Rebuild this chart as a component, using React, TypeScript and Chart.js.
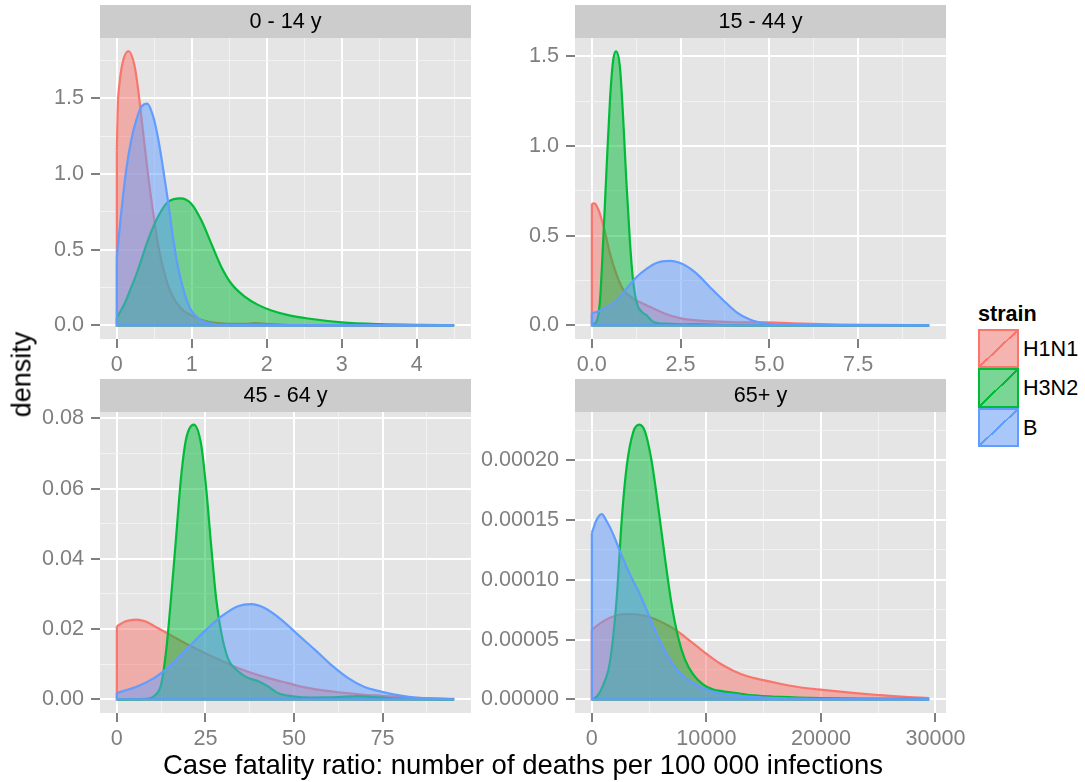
import React, { useEffect, useRef } from "react";
import { Chart, registerables } from "chart.js";

Chart.register(...registerables);

const FONT = "'Liberation Sans', Arial, Helvetica, sans-serif";

// ---------------- categories ----------------
const strains = ["H1N1", "H3N2", "B"];
const strainColors = ["#F8766D", "#00BA38", "#619CFF"];
const strainFills = ["rgba(248,118,109,0.5)", "rgba(0,186,56,0.5)", "rgba(97,156,255,0.5)"];
const panelTitles = ["0 - 14 y", "15 - 44 y", "45 - 64 y", "65+ y"];
const xAxisTitle = "Case fatality ratio: number of deaths per 100 000 infections";
const yAxisTitle = "density";
const legendTitle = "strain";

// ---------------- panel 1: 0 - 14 y ----------------
const p1_H1N1_x = [0, 0.012, 0.035, 0.079, 0.155, 0.235, 0.28, 0.347, 0.414, 0.48, 0.547, 0.636, 0.726, 0.86, 0.993, 1.17, 1.44, 1.7, 1.85, 2.0, 2.3, 3.0, 4.5];
const p1_H1N1_y = [1.157, 1.443, 1.597, 1.74, 1.813, 1.718, 1.575, 1.289, 1.003, 0.76, 0.54, 0.342, 0.209, 0.11, 0.066, 0.029, 0.011, 0.009, 0.014, 0.009, 0.002, 0.0, 0];
const p1_H3N2_x = [0, 0.102, 0.191, 0.28, 0.414, 0.547, 0.681, 0.85, 0.993, 1.127, 1.26, 1.394, 1.528, 1.706, 1.884, 2.063, 2.3, 2.55, 3.0, 3.5, 4.0, 4.5];
const p1_H3N2_y = [0.05, 0.143, 0.25, 0.364, 0.562, 0.716, 0.815, 0.839, 0.804, 0.694, 0.54, 0.386, 0.275, 0.19, 0.135, 0.098, 0.066, 0.045, 0.02, 0.008, 0.003, 0.001];
const p1_B_x = [0, 0.057, 0.124, 0.191, 0.258, 0.325, 0.405, 0.48, 0.547, 0.614, 0.681, 0.748, 0.815, 0.904, 0.993, 1.127, 1.305, 1.5, 4.5];
const p1_B_y = [0.452, 0.738, 1.024, 1.223, 1.355, 1.443, 1.465, 1.388, 1.245, 1.046, 0.826, 0.584, 0.385, 0.209, 0.099, 0.033, 0.007, 0.001, 0];
const p1_xMajor = [0, 1, 2, 3, 4];
const p1_xMinor = [0.5, 1.5, 2.5, 3.5, 4.5];
const p1_xLabels = ["0", "1", "2", "3", "4"];
const p1_yMajor = [0, 0.5, 1, 1.5];
const p1_yMinor = [0.25, 0.75, 1.25, 1.75];
const p1_yLabels = ["0.0", "0.5", "1.0", "1.5"];
const p1_xRange = [-0.225, 4.725];
const p1_yRange = [-0.0904, 1.899];

// ---------------- panel 2: 15 - 44 y ----------------
const p2_H1N1_x = [0, 0.07, 0.15, 0.23, 0.37, 0.51, 0.7, 0.88, 1.17, 1.54, 2.01, 2.48, 2.95, 3.88, 4.9, 5.9, 7.0, 8.0, 9.5];
const p2_H1N1_y = [0.679, 0.68, 0.66, 0.62, 0.52, 0.4, 0.28, 0.2, 0.149, 0.112, 0.069, 0.04, 0.027, 0.018, 0.016, 0.01, 0.004, 0.002, 0];
const p2_H3N2_x = [0, 0.15, 0.23, 0.32, 0.416, 0.51, 0.6, 0.68, 0.79, 0.88, 0.97, 1.07, 1.16, 1.27, 1.41, 1.54, 1.73, 2.1, 2.6, 3.0, 3.4, 4.0, 9.5];
const p2_H3N2_y = [0, 0.03, 0.14, 0.474, 0.883, 1.256, 1.479, 1.529, 1.442, 1.162, 0.809, 0.474, 0.251, 0.121, 0.074, 0.056, 0.019, 0.009, 0.006, 0.007, 0.004, 0.001, 0];
const p2_B_x = [0, 0.416, 0.7, 0.98, 1.26, 1.54, 1.82, 2.2, 2.57, 2.95, 3.32, 3.7, 4.07, 4.45, 4.92, 5.3, 6.0, 9.5];
const p2_B_y = [0.065, 0.1, 0.14, 0.205, 0.27, 0.315, 0.348, 0.359, 0.34, 0.288, 0.214, 0.14, 0.074, 0.032, 0.009, 0.004, 0.001, 0];
const p2_xMajor = [0, 2.5, 5, 7.5];
const p2_xMinor = [1.25, 3.75, 6.25, 8.75];
const p2_xLabels = ["0.0", "2.5", "5.0", "7.5"];
const p2_yMajor = [0, 0.5, 1, 1.5];
const p2_yMinor = [0.25, 0.75, 1.25];
const p2_yLabels = ["0.0", "0.5", "1.0", "1.5"];
const p2_xRange = [-0.475, 9.975];
const p2_yRange = [-0.0764, 1.603];

// ---------------- panel 3: 45 - 64 y ----------------
const p3_H1N1_x = [0, 2.5, 5.44, 8, 10.6, 15.3, 20.0, 24.8, 29.5, 34.2, 38.9, 43.6, 48.3, 53.0, 57.7, 62.4, 70, 75, 85, 95.2];
const p3_H1N1_y = [0.0208, 0.0222, 0.0227, 0.0222, 0.0208, 0.0182, 0.0156, 0.0132, 0.011, 0.0089, 0.0072, 0.0058, 0.0046, 0.0034, 0.0026, 0.002, 0.0013, 0.001, 0.0004, 0.0001];
const p3_H3N2_x = [0, 8, 10.6, 12.5, 13.9, 15.3, 16.7, 18.1, 19.5, 21.7, 23.8, 25.2, 26.6, 28.0, 29.4, 31.3, 34.2, 37.0, 39.8, 42.6, 45.4, 50.1, 54.8, 62.4, 68, 72, 80, 95.2];
const p3_H3N2_y = [0, 0.0001, 0.001, 0.0042, 0.0137, 0.0289, 0.0459, 0.063, 0.0739, 0.0782, 0.0725, 0.0602, 0.044, 0.0289, 0.0194, 0.0118, 0.008, 0.0061, 0.0052, 0.0037, 0.0018, 0.0008, 0.0005, 0.0006, 0.0009, 0.0007, 0.0002, 0];
const p3_B_x = [0, 5.9, 10.6, 15.3, 20.0, 24.8, 29.5, 34.2, 37.9, 41.7, 46.4, 51.1, 55.8, 60.5, 65.2, 69.9, 73.8, 79.7, 85, 95.2];
const p3_B_y = [0.0018, 0.0037, 0.0061, 0.0098, 0.0146, 0.0194, 0.0236, 0.0265, 0.0271, 0.026, 0.0227, 0.0184, 0.0142, 0.0098, 0.0061, 0.0035, 0.0024, 0.0011, 0.0004, 0];
const p3_xMajor = [0, 25, 50, 75];
const p3_xMinor = [12.5, 37.5, 62.5, 87.5];
const p3_xLabels = ["0", "25", "50", "75"];
const p3_yMajor = [0, 0.02, 0.04, 0.06, 0.08];
const p3_yMinor = [0.01, 0.03, 0.05, 0.07];
const p3_yLabels = ["0.00", "0.02", "0.04", "0.06", "0.08"];
const p3_xRange = [-4.76, 99.96];
const p3_yRange = [-0.0039, 0.0818];

// ---------------- panel 4: 65+ y ----------------
const p4_H1N1_x = [0, 1006, 2170, 3333, 4788, 6242, 7406, 8278, 9151, 10023, 11186, 12349, 13512, 14966, 16421, 17875, 19329, 20784, 23000, 25000, 27000, 29450];
const p4_H1N1_y = [5.83e-5, 6.53e-5, 7.03e-5, 7.14e-5, 6.95e-5, 6.39e-5, 5.75e-5, 5.1e-5, 4.45e-5, 3.8e-5, 3.0e-5, 2.4e-5, 1.95e-5, 1.6e-5, 1.3e-5, 1.05e-5, 0.87e-5, 0.72e-5, 0.52e-5, 0.36e-5, 0.22e-5, 0.11e-5];
const p4_H3N2_x = [0, 500, 1006, 1588, 2170, 2606, 3043, 3624, 4148, 4642, 5224, 5806, 6387, 6969, 7551, 8133, 8860, 9733, 10606, 11478, 12642, 14096, 16421, 20000, 25000, 29450];
const p4_H3N2_y = [0, 0.3e-5, 1.23e-5, 3.18e-5, 8.48e-5, 15.0e-5, 19.5e-5, 22.4e-5, 22.98e-5, 22.4e-5, 19.9e-5, 16.0e-5, 11.8e-5, 7.92e-5, 5.13e-5, 3.32e-5, 2.07e-5, 1.23e-5, 0.81e-5, 0.67e-5, 0.53e-5, 0.33e-5, 0.2e-5, 0.1e-5, 0.05e-5, 0.02e-5];
const p4_B_x = [0, 425, 861, 1297, 1879, 2461, 3333, 4206, 5079, 5951, 6824, 7697, 8860, 10023, 11478, 13512, 16421, 20000, 29450];
const p4_B_y = [13.92e-5, 15.04e-5, 15.5e-5, 14.9e-5, 13.78e-5, 12.38e-5, 10.43e-5, 8.76e-5, 6.8e-5, 4.85e-5, 3.32e-5, 2.2e-5, 1.37e-5, 0.81e-5, 0.45e-5, 0.25e-5, 0.1e-5, 0.03e-5, 0];
const p4_xMajor = [0, 10000, 20000, 30000];
const p4_xMinor = [5000, 15000, 25000];
const p4_xLabels = ["0", "10000", "20000", "30000"];
const p4_yMajor = [0, 0.00005, 0.0001, 0.00015, 0.0002];
const p4_yMinor = [0.000025, 0.000075, 0.000125, 0.000175, 0.000225];
const p4_yLabels = ["0.00000", "0.00005", "0.00010", "0.00015", "0.00020"];
const p4_xRange = [-1472.5, 30922.5];
const p4_yRange = [-1.145e-5, 2.404e-4];

type Panel = {
  title: string;
  series: number[][][];
  xMajor: number[]; xMinor: number[]; xLabels: string[];
  yMajor: number[]; yMinor: number[]; yLabels: string[];
  xRange: number[]; yRange: number[];
};

const panels: Panel[] = [
  { title: panelTitles[0], series: [[p1_H1N1_x, p1_H1N1_y], [p1_H3N2_x, p1_H3N2_y], [p1_B_x, p1_B_y]],
    xMajor: p1_xMajor, xMinor: p1_xMinor, xLabels: p1_xLabels, yMajor: p1_yMajor, yMinor: p1_yMinor, yLabels: p1_yLabels, xRange: p1_xRange, yRange: p1_yRange },
  { title: panelTitles[1], series: [[p2_H1N1_x, p2_H1N1_y], [p2_H3N2_x, p2_H3N2_y], [p2_B_x, p2_B_y]],
    xMajor: p2_xMajor, xMinor: p2_xMinor, xLabels: p2_xLabels, yMajor: p2_yMajor, yMinor: p2_yMinor, yLabels: p2_yLabels, xRange: p2_xRange, yRange: p2_yRange },
  { title: panelTitles[2], series: [[p3_H1N1_x, p3_H1N1_y], [p3_H3N2_x, p3_H3N2_y], [p3_B_x, p3_B_y]],
    xMajor: p3_xMajor, xMinor: p3_xMinor, xLabels: p3_xLabels, yMajor: p3_yMajor, yMinor: p3_yMinor, yLabels: p3_yLabels, xRange: p3_xRange, yRange: p3_yRange },
  { title: panelTitles[3], series: [[p4_H1N1_x, p4_H1N1_y], [p4_H3N2_x, p4_H3N2_y], [p4_B_x, p4_B_y]],
    xMajor: p4_xMajor, xMinor: p4_xMinor, xLabels: p4_xLabels, yMajor: p4_yMajor, yMinor: p4_yMinor, yLabels: p4_yLabels, xRange: p4_xRange, yRange: p4_yRange },
];

// ---------------- layout ----------------
const AREA_W = 371;
const AREA_H = 301;
const STRIP_H = 33;
const TOP_PAD = 38;
const Y_AXIS_W = 100;
const X_AXIS_H = 40;
const RIGHT_PAD = 30;
const CANVAS_W = Y_AXIS_W + AREA_W + RIGHT_PAD;
const CANVAS_H = TOP_PAD + AREA_H + X_AXIS_H;
const panelOrigins = [[100, 38], [575, 38], [100, 412], [575, 412]];
const TICK_FONT = 21.6;
const LINE_W = 2.2;

const decorPlugin = (title: string) => ({
  id: "panelDecor",
  beforeDraw(chart: any) {
    const { ctx, chartArea: a } = chart;
    ctx.save();
    ctx.fillStyle = "#E5E5E5";
    ctx.fillRect(a.left, a.top, a.right - a.left, a.bottom - a.top);
    ctx.fillStyle = "#CCCCCC";
    ctx.fillRect(a.left, a.top - STRIP_H, a.right - a.left, STRIP_H);
    ctx.fillStyle = "#000000";
    ctx.font = `${TICK_FONT}px ${FONT}`;
    ctx.textAlign = "center";
    ctx.textBaseline = "middle";
    ctx.fillText(title, (a.left + a.right) / 2, a.top - STRIP_H / 2 + 1);
    ctx.restore();
  },
});

function axisOptions(major: number[], minor: number[], labels: string[], range: number[], isX: boolean) {
  const vals = [...major, ...minor].sort((a, b) => a - b);
  const isMajor = (c: any) => c && c.tick && major.indexOf(c.tick.value) >= 0;
  return {
    type: "linear",
    min: range[0],
    max: range[1],
    afterBuildTicks: (s: any) => {
      s.ticks = vals.map((v) => ({ value: v }));
    },
    afterFit: (s: any) => {
      if (isX) s.height = X_AXIS_H;
      else s.width = Y_AXIS_W;
    },
    border: { display: false },
    grid: {
      drawOnChartArea: true,
      drawTicks: true,
      color: (c: any) => (isMajor(c) ? "#FFFFFF" : "#F2F2F2"),
      lineWidth: (c: any) => (isMajor(c) ? 2 : 1),
      tickColor: (c: any) => (isMajor(c) ? "#7F7F7F" : "rgba(0,0,0,0)"),
      tickWidth: 2,
      tickLength: 9,
    },
    ticks: {
      autoSkip: false,
      maxRotation: 0,
      minRotation: 0,
      padding: isX ? 4 : 7,
      color: "#7F7F7F",
      font: { family: FONT, size: TICK_FONT },
      callback: (v: number) => {
        const i = major.indexOf(v);
        return i >= 0 ? labels[i] : "";
      },
    },
  };
}

function makeChart(canvas: HTMLCanvasElement, p: Panel) {
  const datasets: any[] = [];
  p.series.forEach(([xs, ys], i) => {
    datasets.push({
      label: strains[i],
      data: xs.map((x, k) => ({ x, y: ys[k] })),
      borderColor: strainColors[i],
      backgroundColor: strainFills[i],
      borderWidth: LINE_W,
      pointRadius: 0,
      fill: "origin",
      cubicInterpolationMode: "monotone",
      borderJoinStyle: "round",
      order: 10 - 2 * i,
    });
    // polygon closing edge (left edge at first x and baseline) of the same density
    datasets.push({
      label: strains[i] + " edge",
      data: [
        { x: xs[0], y: ys[0] },
        { x: xs[0], y: 0 },
        { x: xs[xs.length - 1], y: 0 },
      ],
      borderColor: strainColors[i],
      borderWidth: LINE_W,
      pointRadius: 0,
      fill: false,
      tension: 0,
      order: 9 - 2 * i,
    });
  });

  return new Chart(canvas, {
    type: "line",
    data: { datasets },
    options: {
      responsive: false,
      animation: false,
      devicePixelRatio: 1,
      events: [],
      layout: { padding: { left: 0, top: TOP_PAD, right: RIGHT_PAD, bottom: 0 } },
      plugins: {
        legend: { display: false },
        tooltip: { enabled: false },
        title: { display: false },
      },
      scales: {
        x: axisOptions(p.xMajor, p.xMinor, p.xLabels, p.xRange, true) as any,
        y: axisOptions(p.yMajor, p.yMinor, p.yLabels, p.yRange, false) as any,
      },
    },
    plugins: [decorPlugin(p.title)],
  });
}

function PanelCanvas({ p, left, top }: { p: Panel; left: number; top: number }) {
  const ref = useRef<HTMLCanvasElement>(null);
  useEffect(() => {
    if (!ref.current) return;
    const chart = makeChart(ref.current, p);
    return () => chart.destroy();
  }, [p]);
  return (
    <canvas
      ref={ref}
      width={CANVAS_W}
      height={CANVAS_H}
      style={{ position: "absolute", left: left - Y_AXIS_W, top: top - TOP_PAD, width: CANVAS_W, height: CANVAS_H }}
    />
  );
}

function LegendKey({ i }: { i: number }) {
  const c = strainColors[i];
  const f = strainFills[i];
  return (
    <div
      style={{
        position: "absolute",
        left: 0,
        top: i * 39.3,
        width: 41,
        height: 39.3,
        boxSizing: "border-box",
        border: `2px solid ${c}`,
        background: `linear-gradient(to bottom right, transparent calc(50% - 1px), ${c} calc(50% - 1px), ${c} calc(50% + 1px), transparent calc(50% + 1px)), linear-gradient(${f}, ${f}), #F2F2F2`,
      }}
    />
  );
}

export default function App() {
  return (
    <div style={{ position: "absolute", left: 0, top: 0, width: 1085, height: 782, background: "#FFFFFF", overflow: "hidden", fontFamily: FONT }}>
      {panels.map((p, i) => (
        <PanelCanvas key={i} p={p} left={panelOrigins[i][0]} top={panelOrigins[i][1]} />
      ))}
      <div
        style={{
          position: "absolute",
          left: 523 - 400,
          top: 751,
          width: 800,
          height: 28,
          lineHeight: "28px",
          fontSize: 27.5,
          textAlign: "center",
          color: "#000",
          whiteSpace: "nowrap",
        }}
      >
        {xAxisTitle}
      </div>
      <div
        style={{
          position: "absolute",
          left: 22 - 100,
          top: 374 - 13.5,
          width: 200,
          height: 27,
          lineHeight: "27px",
          fontSize: 27,
          textAlign: "center",
          color: "#000",
          transform: "rotate(-90deg)",
          transformOrigin: "50% 50%",
          whiteSpace: "nowrap",
        }}
      >
        {yAxisTitle}
      </div>
      <div style={{ position: "absolute", left: 978, top: 300, fontSize: TICK_FONT, lineHeight: "27px", fontWeight: "bold", color: "#000" }}>
        {legendTitle}
      </div>
      <div style={{ position: "absolute", left: 978, top: 329, width: 110, height: 120 }}>
        {strains.map((s, i) => (
          <React.Fragment key={s}>
            <LegendKey i={i} />
            <div
              style={{
                position: "absolute",
                left: 45,
                top: i * 39.3,
                height: 39.3,
                lineHeight: "39.3px",
                fontSize: TICK_FONT,
                color: "#000",
                whiteSpace: "nowrap",
              }}
            >
              {s}
            </div>
          </React.Fragment>
        ))}
      </div>
    </div>
  );
}
